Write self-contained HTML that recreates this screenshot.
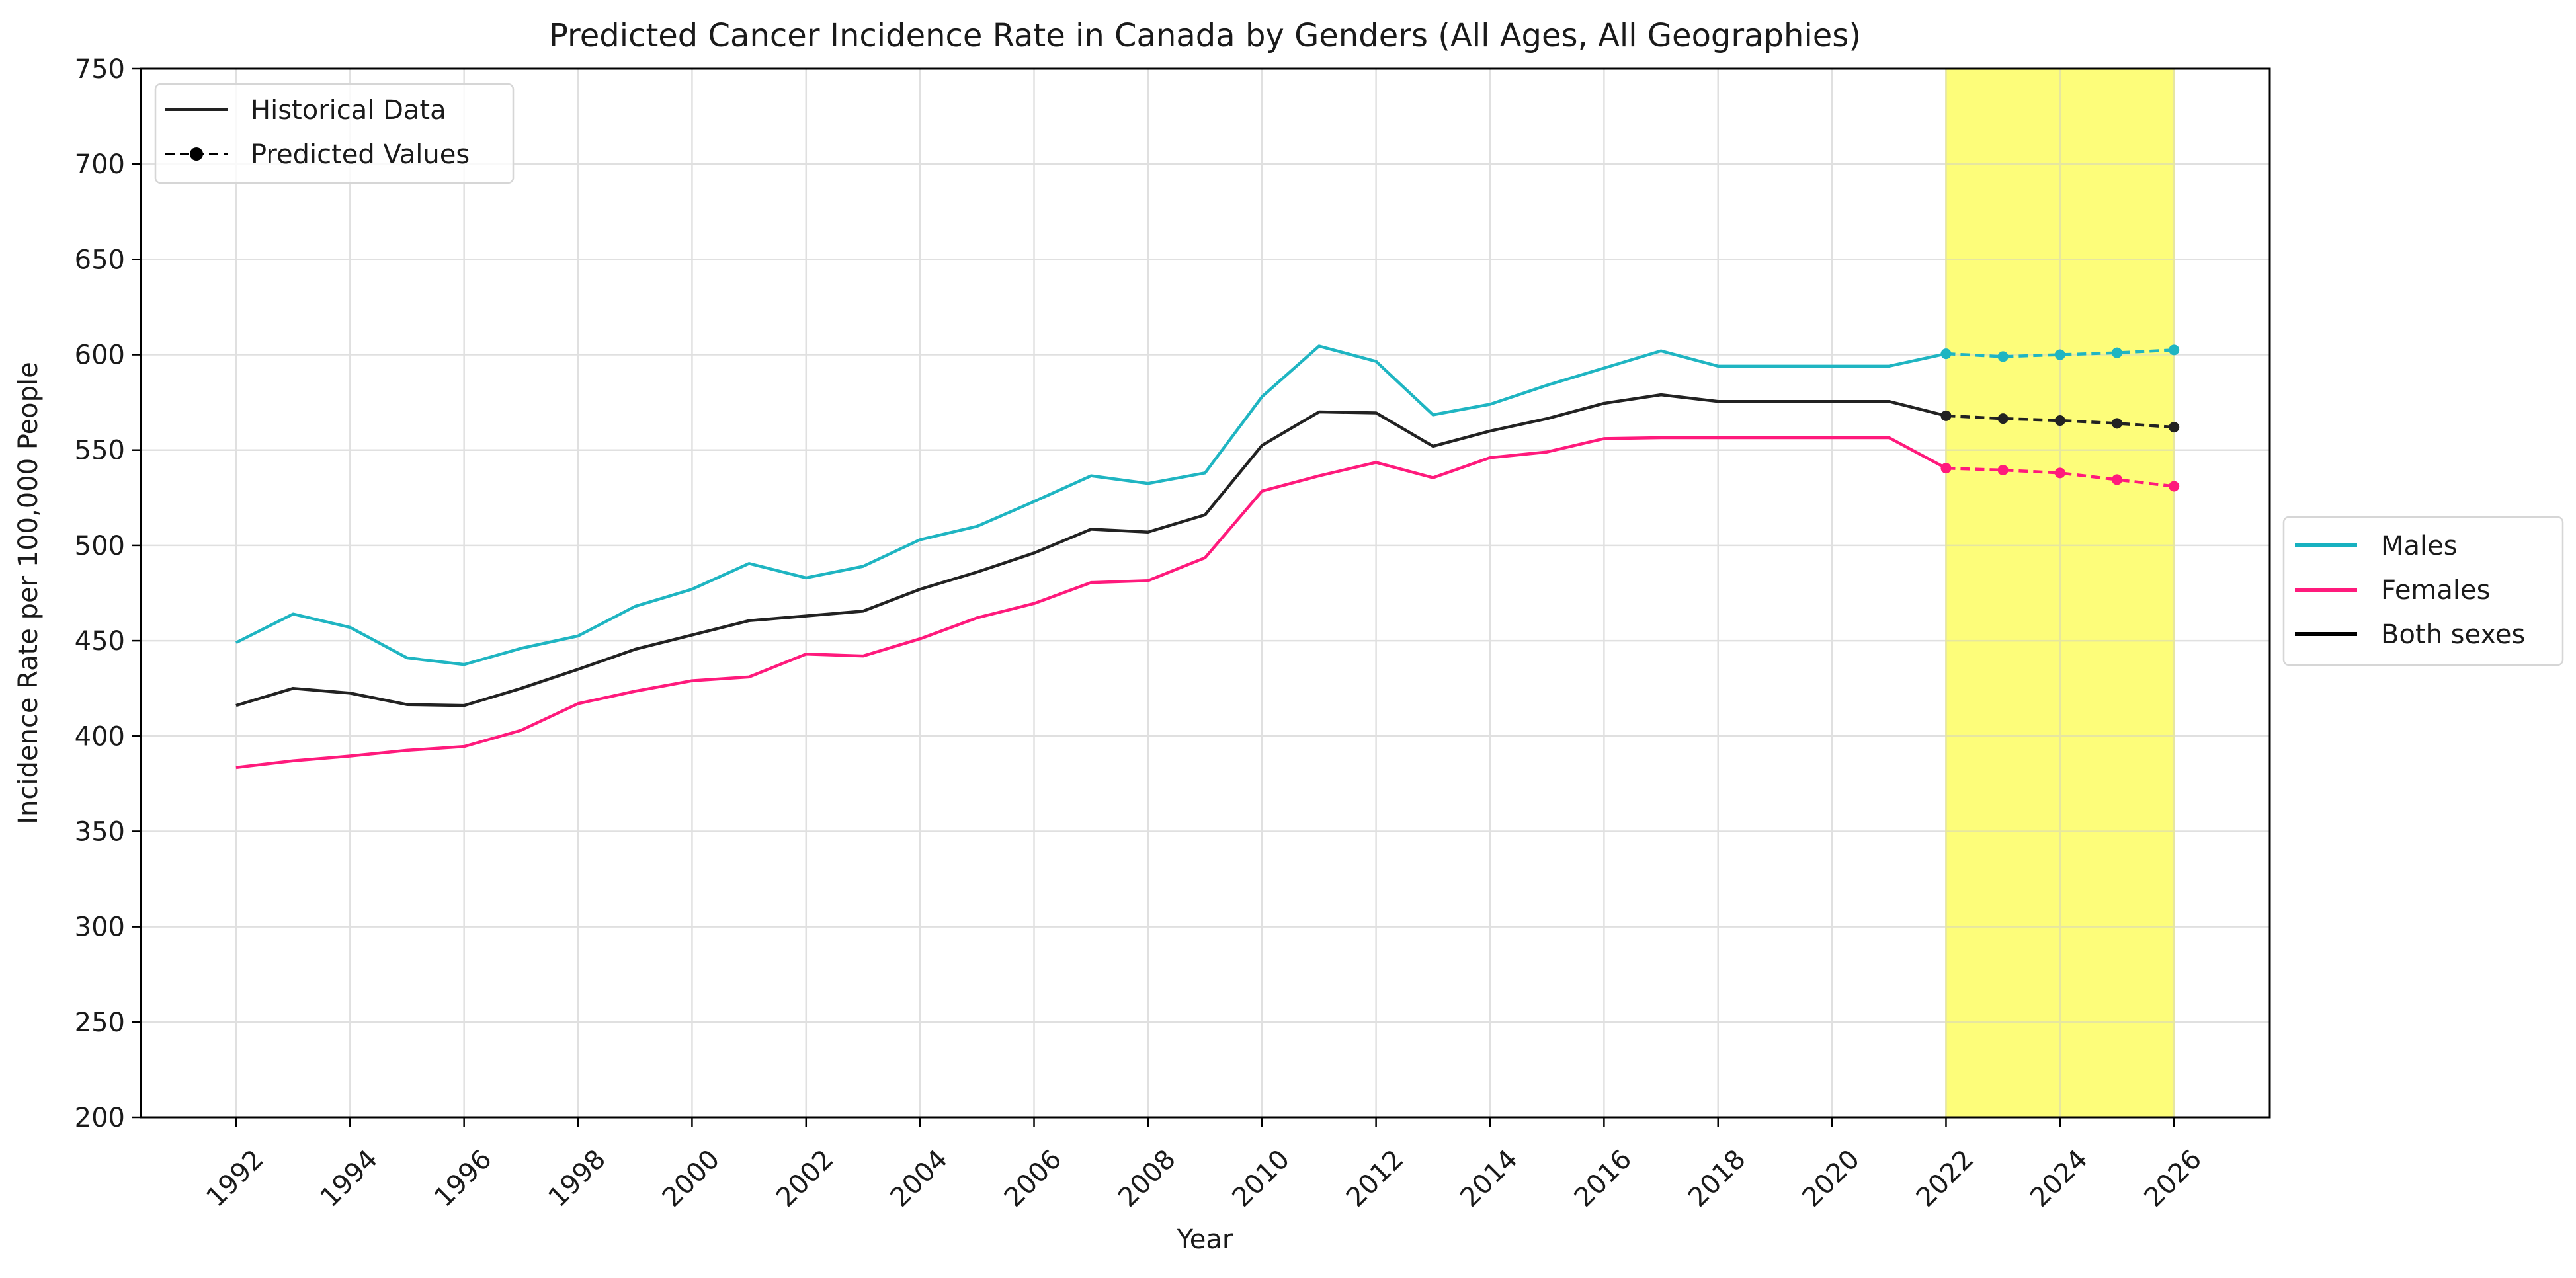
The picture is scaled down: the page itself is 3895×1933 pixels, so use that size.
<!DOCTYPE html>
<html><head><meta charset="utf-8"><style>
html,body{margin:0;padding:0;background:#fff;}
svg text{font-family:"DejaVu Sans","Liberation Sans",sans-serif;fill:#1a1a1a;}
</style></head><body>
<svg id="chart" width="3895" height="1928" viewBox="0 0 3895 1928" xmlns="http://www.w3.org/2000/svg">
<rect width="3895" height="1928" fill="#fff"/>
<g id="grid"></g>
<g id="span"></g>
<g id="series"></g>
<g id="axes"></g>
<text x="1822" y="70" font-size="48" text-anchor="middle">Predicted Cancer Incidence Rate in Canada by Genders (All Ages, All Geographies)</text>
<text x="1822" y="1888" font-size="40" text-anchor="middle">Year</text>
<text transform="translate(56,897) rotate(-90)" font-size="40" text-anchor="middle">Incidence Rate per 100,000 People</text>
<g>
<rect x="235" y="127" width="541" height="150" rx="8" fill="#fff" fill-opacity="0.8" stroke="#d6d6d6" stroke-width="2.5"/>
<line x1="250" y1="166" x2="344" y2="166" stroke="#222" stroke-width="4"/>
<text x="379" y="180" font-size="40">Historical Data</text>
<line x1="250" y1="233" x2="344" y2="233" stroke="#000" stroke-width="4" stroke-dasharray="14,8"/>
<circle cx="297" cy="233" r="10" fill="#000"/>
<text x="379" y="247" font-size="40">Predicted Values</text>
</g>
<g>
<rect x="3453" y="782" width="422" height="224" rx="8" fill="#fff" stroke="#d6d6d6" stroke-width="2.5"/>
<line x1="3470" y1="825" x2="3564" y2="825" stroke="#17b1c0" stroke-width="6"/>
<text x="3600" y="839" font-size="40">Males</text>
<line x1="3470" y1="892" x2="3564" y2="892" stroke="#ff1a7c" stroke-width="6"/>
<text x="3600" y="906" font-size="40">Females</text>
<line x1="3470" y1="959" x2="3564" y2="959" stroke="#000" stroke-width="6"/>
<text x="3600" y="973" font-size="40">Both sexes</text>
</g>
</svg>
<script>
const years=[1992,1993,1994,1995,1996,1997,1998,1999,2000,2001,2002,2003,2004,2005,2006,2007,2008,2009,2010,2011,2012,2013,2014,2015,2016,2017,2018,2019,2020,2021,2022,2023,2024,2025,2026];
const males=[449,464,457,441,437.5,446,452.5,468,477,490.5,483,489,503,510,523,536.5,532.5,538,578,604.5,596.5,568.5,574,584,593,602,594,594,594,594,600.5,599,600,601,602.5];
const females=[383.5,387,389.5,392.5,394.5,403,417,423.5,429,431,443,442,451,462,469.5,480.5,481.5,493.5,528.5,536.5,543.5,535.5,546,549,556,556.5,556.5,556.5,556.5,556.5,540.5,539.5,538,534.5,531];
const both=[416,425,422.5,416.5,416,425,435,445.5,453,460.5,463,465.5,477,486,496,508.5,507,516,552.5,570,569.5,552,560,566.5,574.5,579,575.5,575.5,575.5,575.5,568,566.5,565.5,564,562];
const predictStart=2022;
const xTicks=[1992,1994,1996,1998,2000,2002,2004,2006,2008,2010,2012,2014,2016,2018,2020,2022,2024,2026];
const yTicks=[200,250,300,350,400,450,500,550,600,650,700,750];
const NS="http://www.w3.org/2000/svg";
const L=213,R=3432,T=104,B=1690;
const xMin=1990.33,xMax=2027.68,yMin=200,yMax=750;
function xs(v){return L+(v-xMin)/(xMax-xMin)*(R-L);}
function ys(v){return B-(v-yMin)/(yMax-yMin)*(B-T);}
function mk(tag,attrs,parent){const e=document.createElementNS(NS,tag);for(const k in attrs)e.setAttribute(k,attrs[k]);parent.appendChild(e);return e;}
const grid=document.getElementById('grid'),axes=document.getElementById('axes'),span=document.getElementById('span'),ser=document.getElementById('series');
xTicks.forEach(t=>{
  const g=mk('line',{x1:xs(t),x2:xs(t),y1:T,y2:B,stroke:'#e0e0e0','stroke-width':2.5},grid);
  
  
  const tk=mk('line',{x1:xs(t),x2:xs(t),y1:B,y2:B+14,stroke:'#000','stroke-width':2.5},axes);
  
  
  const tx=mk('text',{x:0,y:0,'font-size':40,'text-anchor':'middle',transform:`translate(${xs(t)},${1784}) rotate(-45)`,'dominant-baseline':'middle'},axes);
  tx.textContent=t;
  
  
});
yTicks.forEach(t=>{
  const g=mk('line',{x1:L,x2:R,y1:ys(t),y2:ys(t),stroke:'#e0e0e0','stroke-width':2.5},grid);
  
  
  const tk=mk('line',{x1:L-14,x2:L,y1:ys(t),y2:ys(t),stroke:'#000','stroke-width':2.5},axes);
  
  
  const tx=mk('text',{x:L-24,y:ys(t)+14,'font-size':40,'text-anchor':'end'},axes);
  tx.textContent=t;
  
  
});
const sp=mk('rect',{x:xs(predictStart),y:T,width:xs(years[years.length-1])-xs(predictStart),height:B-T,fill:'#fdfd7a'},span);


xTicks.filter(t=>t>=predictStart).forEach(t=>{mk('line',{x1:xs(t),x2:xs(t),y1:T,y2:B,stroke:'#e6e6a0','stroke-width':2.5},span);});
yTicks.forEach(t=>{mk('line',{x1:xs(predictStart),x2:xs(2026),y1:ys(t),y2:ys(t),stroke:'#e6e6a0','stroke-width':2.5},span);});
function draw(vals,color,name){
  const hist=[],pred=[];
  years.forEach((y,i)=>{const p=xs(y)+','+ys(vals[i]);if(y<=predictStart)hist.push(p);if(y>=predictStart)pred.push(p);});
  const h=mk('polyline',{points:hist.join(' '),fill:'none',stroke:color,'stroke-width':4.5,'stroke-linejoin':'round'},ser);
  
  
  const p=mk('polyline',{points:pred.join(' '),fill:'none',stroke:color,'stroke-width':4.5,'stroke-dasharray':'14,8'},ser);
  
  
  years.forEach((y,i)=>{if(y>=predictStart){
    const c=mk('circle',{cx:xs(y),cy:ys(vals[i]),r:8,fill:color},ser);
    
    
  }});
}
draw(males,'#1fb5c2','males');
draw(females,'#ff1a7c','females');
draw(both,'#222222','both-sexes');
const fr=mk('rect',{x:L,y:T,width:R-L,height:B-T,fill:'none',stroke:'#000','stroke-width':3},axes);


</script>
</body></html>
